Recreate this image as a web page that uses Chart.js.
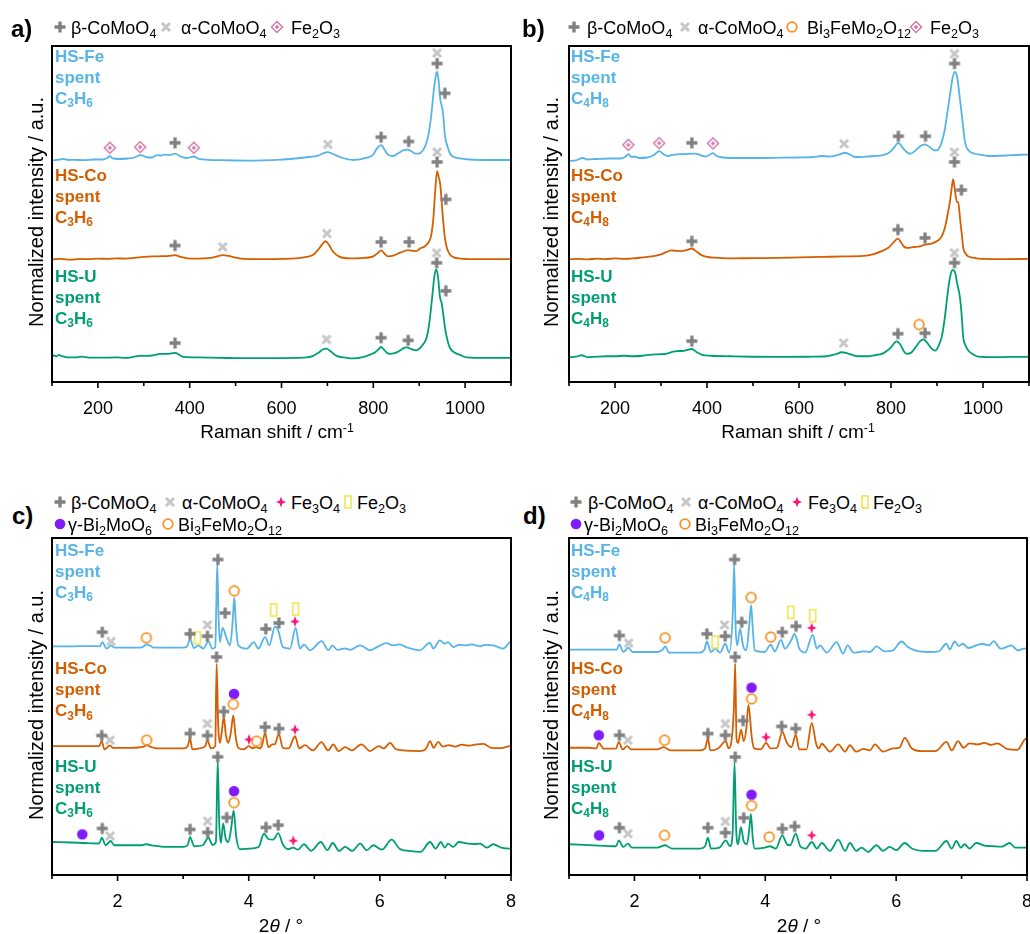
<!DOCTYPE html>
<html>
<head>
<meta charset="utf-8">
<script src="https://cdn.jsdelivr.net/npm/chart.js@4.4.1/dist/chart.umd.min.js"></script>
<style>
  body { margin:0; background:#fff; width:1030px; height:934px; position:relative; overflow:hidden;
         font-family:"Liberation Sans", Arial, sans-serif; color:#000; }
  canvas.chart { position:absolute; }
  .lbl { position:absolute; font-weight:bold; font-size:17px; line-height:21px; white-space:nowrap; }
  .leg { position:absolute; font-size:18px; white-space:nowrap; transform:translateY(-50%); }
  .ico { position:absolute; transform:translate(-50%,-50%); }
  .ytitle { position:absolute; font-size:20px; white-space:nowrap; transform:translate(-50%,-50%) rotate(-90deg); }
  .xtitle { position:absolute; font-size:19px; white-space:nowrap; transform:translate(-50%,-50%); }
  .plet { position:absolute; font-size:24px; font-weight:bold; transform:translateY(-50%); }
  sub { font-size:70%; vertical-align:baseline; position:relative; top:0.32em; line-height:0; }
  sup { font-size:65%; vertical-align:baseline; position:relative; top:-0.5em; line-height:0; }
</style>
</head>
<body>
<script>
// ---------- données Raman (a.u., hauteur au-dessus de la ligne de base) ----------
const ramanTicks = [200, 400, 600, 800, 1000];
const xrdTicks = [2, 4, 6, 8];

// a) C3H6
const ramanFe_C3H6 = [[100,0.5],[110,1],[124,2],[135,1],[150,1.2],[170,0.8],[190,1.5],[210,1.5],[220,3],[226,5],[232,2.5],[245,2],[265,2.5],[280,3.5],[293,6],[305,4],[318,3.5],[329,6],[338,5.5],[347,6.5],[357,6],[368,7.5],[380,4.5],[395,3],[409,4.5],[420,2],[440,1.2],[470,0.8],[500,0.5],[540,0.3],[580,0.8],[603,1.5],[630,2.5],[660,4],[680,5.5],[692,8],[701,9],[712,7],[730,3.5],[756,1],[786,3.3],[800,6.5],[807,12],[817,16],[825,11],[833,6],[843,5],[855,8],[866,11],[875,11.5],[884,9.5],[892,7.5],[899,7.5],[907,10],[914,16],[920,26],[926,45],[932,72],[937,88],[939,90],[942,82],[946,62],[949,56],[952,48],[956,26],[962,14],[967,7.5],[975,4],[989,2.7],[1010,1.5],[1050,1],[1100,1]];
const ramanCo_C3H6 = [[100,0],[120,0.5],[140,-0.3],[160,0.5],[180,0.2],[200,0.8],[220,0.5],[240,1],[260,0.8],[280,1.5],[300,2.5],[320,3],[340,3.2],[355,3.5],[368,4.3],[380,2.5],[395,1],[420,0.8],[445,1.5],[460,3],[472,4.3],[485,3.5],[500,1.8],[520,0.5],[560,0.3],[600,0.5],[630,1],[655,2.5],[670,5],[682,11],[690,16],[696,18.3],[703,15],[712,8],[727,2.5],[750,1],[780,1.5],[800,3],[810,6.5],[817,9],[824,6],[832,3],[845,4],[860,7],[876,9.3],[887,8.5],[894,8.3],[902,11],[912,13],[920,17],[926,24],[931,42],[935,70],[939,89],[942,84],[946,75],[949,58],[952,40],[956,22],[960,12],[967,5],[974,2.3],[990,0.8],[1020,0.3],[1060,0.3],[1100,0.3]];
const ramanU_C3H6 = [[100,1],[105,2.5],[110,1.5],[115,3],[120,2],[125,1.5],[135,0.5],[150,0.5],[165,1.3],[180,0.3],[210,0.2],[240,0.5],[260,0],[277,1],[290,2],[305,2],[320,2.5],[335,4],[350,4],[360,4.5],[368,5],[378,3],[386,1],[420,0.5],[470,0],[520,-0.3],[580,-0.3],[630,0],[655,0.5],[669,2],[680,5],[690,8.5],[698,9.3],[706,7],[720,2],[740,0.3],[756,-0.5],[775,0.5],[793,3.3],[805,6],[812,9],[817,11],[822,9],[829,5.5],[836,4],[848,5],[860,8],[868,10.5],[873,10.7],[880,9.5],[888,8],[894,7.7],[902,10],[909,14],[916,20],[922,35],[928,60],[933,82],[937,89.3],[941,82],[945,62],[949,55],[953,42],[957,28],[962,17],[967,10],[975,6],[989,3],[1004,0.5],[1040,0],[1100,0]];

// b) C4H8
const ramanFe_C4H8 = [[100,0],[115,0.5],[130,3],[140,1.5],[160,2],[190,2.5],[210,2.5],[222,4],[229,7],[236,4],[243,4.5],[252,3],[270,3.5],[285,6],[296,10],[305,7],[315,5],[330,6.5],[350,7],[374,7.5],[388,5.5],[396,4.5],[405,6],[413,8],[421,5],[435,3.5],[470,3],[520,3],[560,3.3],[600,3.5],[630,4],[650,5],[665,4.5],[680,5.5],[690,7],[700,8.3],[710,6.5],[722,4],[750,4.5],[765,5],[780,5.7],[795,8],[806,13],[816,18.3],[826,13],[834,9],[841,7.3],[852,10],[864,15],[874,16.7],[884,14],[893,11],[899,10.7],[908,16],[917,32],[923,50],[928,66],[934,84],[939,90],[944,84],[950,62],[956,38],[961,19],[970,10],[983,7.3],[1000,6],[1011,5],[1050,5.5],[1080,6.3],[1100,6.5]];
const ramanCo_C4H8 = [[100,0],[120,0.5],[140,0],[160,0.8],[180,0.3],[200,1],[220,0.5],[240,1],[260,2],[280,3],[300,5],[312,7.5],[323,9],[335,8.5],[345,8.3],[356,9.5],[367,11],[377,8],[388,4.3],[400,2.5],[417,1.7],[450,1],[500,1.3],[550,1.5],[600,2],[650,2.5],[700,3],[740,3.5],[760,5],[780,8.3],[795,12],[805,17],[815,21],[822,17],[828,13],[834,11.7],[850,12.5],[865,13.5],[874,15],[888,16],[902,19],[910,23],[917,31.7],[923,45],[928,58],[932,72],[935,81],[939,70],[943,58],[946,58],[950,41.7],[954,25],[957,11.7],[962,6],[967,3.3],[980,1.5],[1000,0.5],[1050,0.3],[1100,0.5]];
const ramanU_C4H8 = [[100,0],[115,0.5],[128,2],[140,0],[160,0.5],[180,1],[200,1],[220,1.5],[240,1],[260,1.5],[280,2.7],[300,3],[315,4],[330,6],[350,6.5],[367,8.3],[378,5],[388,2.7],[410,1.5],[450,1],[500,0.5],[560,0.3],[620,0.5],[660,1],[680,3],[693,5],[705,4],[728,1],[750,1],[770,2.5],[780,3.3],[790,6],[800,10],[812,16],[820,13],[828,6],[834,3.3],[845,5],[855,11],[863,16],[870,18],[878,15],[888,9],[896,6.7],[904,12],[911,22],[917,40],[922,60],[928,80],[934,88],[939,86],[944,74],[950,60],[954,40],[957,20],[962,12],[968,6.7],[978,3],[990,0.5],[1020,0],[1060,0.3],[1100,0.5]];

// ---------- données DRX (2θ / °) ----------
// c) C3H6
const xrdFe_C3H6 = [[1.00,0],[1.30,0],[1.60,0.3],[1.73,0],[1.767,4.3],[1.834,-2.3],[1.90,1],[1.95,-1.3],[2.10,-1.3],[2.34,-1.3],[2.40,0],[2.44,2],[2.50,0.5],[2.55,-1.3],[2.80,-1.3],[3.00,-1.3],[3.06,0],[3.105,7],[3.166,-1.7],[3.23,1],[3.31,-2.3],[3.384,5],[3.445,-2.3],[3.49,-1],[3.505,40],[3.52,82.7],[3.54,30],[3.56,4.3],[3.603,18.7],[3.664,7.7],[3.715,1],[3.755,25],[3.78,49.3],[3.805,22],[3.84,1],[3.97,-2.3],[4.08,4.3],[4.146,-2.3],[4.25,9.3],[4.314,1],[4.40,20],[4.45,16],[4.52,-0.7],[4.63,-2.3],[4.716,18.7],[4.78,-2.3],[4.843,1.7],[4.935,-4],[5.113,5.3],[5.214,-4],[5.275,1],[5.35,-3.5],[5.47,-2],[5.55,-3.5],[5.70,1],[5.85,-4],[5.95,-1],[6.10,3.3],[6.20,1],[6.30,2],[6.41,-1],[6.61,-4],[6.765,3.7],[6.815,-2.3],[6.917,6],[6.99,2.7],[7.04,4.3],[7.12,-0.7],[7.20,1.5],[7.32,1],[7.40,2],[7.53,0],[7.60,1.5],[7.73,1],[7.88,-2.3],[7.985,4.3],[8.00,4.5]];
const xrdCo_C3H6 = [[1.00,0],[1.50,0],[1.72,0],[1.758,5],[1.80,-3.3],[1.885,0.7],[1.93,-1.7],[2.20,-1.7],[2.40,-0.5],[2.44,1],[2.50,-0.5],[2.60,-2.3],[3.00,-2.3],[3.07,0],[3.105,7.7],[3.14,-3.3],[3.25,-2.3],[3.335,0],[3.37,5.7],[3.425,-2.3],[3.49,0],[3.51,83.3],[3.535,20],[3.56,3.3],[3.59,15],[3.62,30],[3.65,12],[3.69,3.3],[3.73,15],[3.765,31],[3.80,10],[3.84,-1.7],[3.92,-3.3],[4.004,0],[4.05,-2],[4.12,-1],[4.16,-2.3],[4.20,0],[4.25,13.3],[4.30,-1],[4.36,1.7],[4.40,2],[4.46,12.3],[4.52,-1.7],[4.61,-2.3],[4.706,10],[4.77,-2.3],[4.858,1],[4.98,-4.3],[5.11,4],[5.21,-4.3],[5.29,1.7],[5.37,-5],[5.47,-1],[5.57,-4.3],[5.72,1.7],[5.85,-5],[5.98,0],[6.06,-2.3],[6.155,3.3],[6.25,-3.3],[6.60,-5],[6.70,-3],[6.765,5],[6.82,-1.7],[6.89,4.3],[6.96,-0.5],[7.05,1],[7.15,-0.5],[7.25,1.5],[7.35,0.5],[7.45,1.5],[7.58,2.3],[7.70,-1.7],[7.85,-2],[7.985,0],[8.00,0]];
const xrdU_C3H6 = [[1.00,0],[1.30,-0.5],[1.48,-1],[1.72,-1.5],[1.758,4.3],[1.82,-3.3],[1.895,1],[1.95,-3.3],[2.34,-3.3],[2.44,-2.3],[2.55,-3.7],[2.75,-5],[3.00,-5],[3.07,-3],[3.105,5],[3.17,-4.3],[3.30,-3.3],[3.384,4.3],[3.45,-3],[3.50,0],[3.527,82],[3.55,20],[3.575,-1],[3.61,18.7],[3.65,3],[3.69,0],[3.735,15],[3.77,32],[3.81,5],[3.867,-7.3],[4.00,-6.7],[4.15,-5],[4.233,8.3],[4.30,3],[4.375,2.3],[4.45,9],[4.52,-2.3],[4.60,-7.3],[4.68,-5.7],[4.75,-7.7],[4.843,-2.3],[4.95,-9],[5.10,0],[5.20,-8.3],[5.28,-1],[5.38,-9],[5.47,-5],[5.58,-9],[5.70,-1.7],[5.80,-8.3],[5.90,-3.3],[6.03,-7.7],[6.18,2.3],[6.30,-6.7],[6.45,-9],[6.62,-10],[6.765,0],[6.85,-6.7],[6.93,0],[6.99,-5.7],[7.04,-1.7],[7.12,-5],[7.20,0],[7.35,-1.7],[7.45,-2],[7.53,-1.7],[7.63,-5.7],[7.73,-2.3],[7.85,-5.7],[7.985,-6.7],[8.00,-6.7]];

// d) C4H8
const xrdFe_C4H8 = [[1.00,0],[1.50,0],[1.73,0],[1.77,5.3],[1.83,-2.3],[1.912,2],[1.97,-2.3],[2.35,-2.3],[2.43,0],[2.47,3.3],[2.53,-3],[3.00,-3],[3.07,0],[3.108,8.3],[3.17,-2.3],[3.234,1],[3.31,-3],[3.387,6],[3.45,-3],[3.505,40],[3.524,86],[3.545,25],[3.57,4.3],[3.616,21],[3.66,4.3],[3.71,-0.7],[3.755,25],[3.783,45.3],[3.81,20],[3.84,-0.7],[3.99,-2.3],[4.083,5],[4.146,-1.7],[4.24,10],[4.30,1],[4.40,10],[4.444,16],[4.48,11],[4.52,1],[4.61,-3],[4.724,15],[4.79,1],[4.835,4.3],[4.94,-3],[5.09,7.7],[5.19,-4],[5.258,4.3],[5.35,-3],[5.50,-1.7],[5.60,-2.3],[5.70,3.3],[5.82,-1.7],[5.95,-0.7],[6.08,8.3],[6.18,2.7],[6.30,-1],[6.50,-2.3],[6.65,-1.7],[6.77,6],[6.82,0.3],[6.894,8.3],[6.96,3.7],[7.02,6],[7.10,1.7],[7.22,4.3],[7.32,6],[7.42,4.3],[7.49,8.7],[7.60,1],[7.76,4.3],[7.86,-0.7],[7.95,1],[8.00,1]];
const xrdCo_C4H8 = [[1.00,0.7],[1.30,0.7],[1.42,0],[1.455,5.7],[1.53,-0.3],[1.72,0],[1.76,6.7],[1.82,-1],[1.888,2.3],[1.95,-1],[2.35,-1],[2.446,1.3],[2.55,-2],[3.00,-2],[3.08,0],[3.123,10],[3.16,-2],[3.28,0],[3.397,7.3],[3.44,0],[3.52,40],[3.54,85.7],[3.56,10],[3.585,5.7],[3.63,19],[3.67,7.3],[3.71,20],[3.742,44],[3.794,10.7],[3.83,0],[3.93,-1],[4.012,5.7],[4.08,0],[4.18,0.7],[4.26,16.7],[4.33,5.7],[4.40,1.3],[4.465,14],[4.52,-1],[4.63,-1],[4.71,25.7],[4.78,4],[4.82,0],[4.862,4.7],[4.99,-3.3],[5.115,4],[5.22,-3.3],[5.293,3.3],[5.39,-3.3],[5.50,-0.5],[5.60,-2],[5.675,4],[5.80,-3.3],[5.95,0],[6.05,0.7],[6.132,10.7],[6.24,0],[6.40,-2.7],[6.60,-2.7],[6.77,6.7],[6.85,-2],[6.945,7.3],[7.03,0.7],[7.12,5],[7.25,4],[7.35,5.7],[7.45,3.5],[7.55,5],[7.70,-0.7],[7.85,-1.5],[7.99,10],[8.00,10]];
const xrdU_C4H8 = [[1.00,0],[1.455,-1.3],[1.72,-2],[1.76,4],[1.83,-2.7],[1.90,0.7],[1.96,-3.3],[2.35,-3.3],[2.47,-1],[2.57,-4.3],[3.00,-4.3],[3.08,-2],[3.123,6.7],[3.17,-4.3],[3.30,-3.3],[3.397,4],[3.46,-2],[3.50,10],[3.53,82.3],[3.555,15],[3.585,0],[3.627,17.3],[3.67,3],[3.72,0],[3.755,15],[3.78,30.7],[3.81,5],[3.84,-4.3],[3.997,-3.3],[4.07,-2],[4.16,-4.3],[4.26,9],[4.33,0],[4.38,-1],[4.465,10.7],[4.54,-2.7],[4.62,-4.3],[4.71,2.3],[4.79,-4.3],[4.862,1.3],[4.99,-6.7],[5.115,4.7],[5.22,-6.7],[5.293,1.3],[5.39,-6.7],[5.47,-3.3],[5.57,-7.7],[5.70,-1],[5.80,-6.7],[5.90,-2.7],[6.00,-6],[6.132,1.3],[6.24,-4.3],[6.40,-6.7],[6.60,-6.7],[6.77,3.3],[6.85,-4.3],[6.92,3.3],[6.99,-3.3],[7.046,0],[7.12,-4.3],[7.225,1.3],[7.35,-1.3],[7.50,-2],[7.62,-2.3],[7.733,1.3],[7.82,-3.3],[7.95,-3.3],[8.00,-3.3]];

// ---------- attribution des pics : [échantillon, phase, position, hauteur] ----------
const marksA = [['Fe','fe2o3R',226,13.3],['Fe','fe2o3R',292,14],['Fe','beta',368,18.3],['Fe','fe2o3R',409,13.3],['Fe','alpha',701,16.7],['Fe','beta',817,24],['Fe','beta',877,19.7],['Fe','beta',939,98.3],['Fe','alpha',939,109],['Fe','beta',956,68.3],
  ['Co','beta',368,14],['Co','alpha',472,12.6],['Co','alpha',699,26],['Co','beta',817,17.6],['Co','beta',878,17.6],['Co','beta',939,98.3],['Co','alpha',939,108.3],['Co','beta',958,60.6],
  ['U','beta',368,15],['U','alpha',698,18.7],['U','beta',817,20.4],['U','beta',876,17.7],['U','beta',938,96],['U','alpha',938,106],['U','beta',958,67.7]];
const marksB = [['Fe','fe2o3R',229,16.3],['Fe','fe2o3R',296,18],['Fe','beta',367,18.3],['Fe','fe2o3R',413,17.7],['Fe','alpha',698,17.3],['Fe','beta',816,25],['Fe','beta',875,25],['Fe','beta',938,98.3],['Fe','alpha',938,108.3],
  ['Co','beta',367,18.3],['Co','beta',815,30],['Co','beta',874,21.7],['Co','beta',938,98.3],['Co','alpha',938,108.3],['Co','beta',953,70],
  ['U','beta',367,16.3],['U','alpha',697,14.3],['U','beta',815,23.7],['U','bfmo',861,33],['U','beta',874,24.3],['U','beta',938,95.3],['U','alpha',938,105.3]];
const marksC = [['Fe','beta',1.767,14.3],['Fe','alpha',1.90,5],['Fe','bfmo',2.44,8.6],['Fe','beta',3.105,12.6],['Fe','fe2o3X',3.22,8.6],['Fe','alpha',3.37,21.6],['Fe','beta',3.37,10.3],['Fe','beta',3.53,87.6],['Fe','beta',3.64,33.6],['Fe','bfmo',3.78,56],['Fe','beta',4.26,17.6],['Fe','fe2o3X',4.38,36.6],['Fe','beta',4.46,23.6],['Fe','fe2o3X',4.716,37.6],['Fe','fe3o4',4.705,25],
  ['Co','beta',1.758,10.7],['Co','alpha',1.885,6],['Co','bfmo',2.444,6],['Co','beta',3.105,12.7],['Co','beta',3.37,10.7],['Co','alpha',3.37,22.7],['Co','beta',3.51,90],['Co','beta',3.62,35],['Co','bfmo',3.765,42.3],['Co','gamma',3.776,52.7],['Co','fe3o4',4.004,6.7],['Co','bfmo',4.12,5],['Co','beta',4.25,19.3],['Co','beta',4.46,17.7],['Co','fe3o4',4.706,16.7],
  ['U','gamma',1.462,7.7],['U','beta',1.767,13.7],['U','alpha',1.885,6],['U','beta',3.105,12.7],['U','beta',3.374,9.7],['U','alpha',3.374,21],['U','beta',3.527,86],['U','beta',3.664,24.7],['U','bfmo',3.776,39.7],['U','gamma',3.776,51.3],['U','beta',4.264,14.7],['U','beta',4.45,17],['U','fe3o4',4.68,1.3]];
const marksD = [['Fe','beta',1.77,14.3],['Fe','alpha',1.912,6.7],['Fe','bfmo',2.47,12],['Fe','beta',3.108,16],['Fe','fe2o3X',3.234,7.7],['Fe','alpha',3.377,25],['Fe','beta',3.387,13.7],['Fe','beta',3.53,91],['Fe','beta',3.64,27.7],['Fe','bfmo',3.783,52.7],['Fe','bfmo',4.083,12.7],['Fe','beta',4.26,17.7],['Fe','fe2o3X',4.39,37.7],['Fe','beta',4.47,23.7],['Fe','fe2o3X',4.724,34.3],['Fe','fe3o4',4.71,22],
  ['Co','gamma',1.455,13.3],['Co','beta',1.77,13.3],['Co','alpha',1.90,8.3],['Co','bfmo',2.46,8.3],['Co','beta',3.123,15],['Co','beta',3.39,13.3],['Co','alpha',3.39,25],['Co','beta',3.54,92.3],['Co','beta',3.66,28],['Co','bfmo',3.79,50],['Co','gamma',3.79,61.3],['Co','fe3o4',4.012,11.3],['Co','beta',4.25,22.3],['Co','beta',4.465,20],['Co','fe3o4',4.71,34],
  ['U','gamma',1.46,9],['U','beta',1.77,16.7],['U','alpha',1.90,10.7],['U','bfmo',2.46,9],['U','beta',3.123,16.7],['U','beta',3.39,11.7],['U','alpha',3.39,23],['U','beta',3.54,88],['U','beta',3.67,26.7],['U','bfmo',3.79,39],['U','gamma',3.79,50],['U','bfmo',4.06,7.3],['U','beta',4.26,15.7],['U','beta',4.45,18],['U','fe3o4',4.71,9]];

// ---------- styles ----------
const COL = { Fe: '#56b4e9', Co: '#d55e00', U: '#009e73' };
const FONT = '"Liberation Sans", Arial, sans-serif';
Chart.defaults.font.family = FONT;

// symboles dessinés sur un petit canvas (utilisés comme pointStyle et dans la légende)
function icone(kind) {
  const c = document.createElement('canvas');
  c.width = 16; c.height = 16;
  const g = c.getContext('2d');
  g.translate(8, 8);
  g.beginPath();
  if (kind === 'beta') {
    g.strokeStyle = '#808080'; g.lineWidth = 3.3;
    g.moveTo(-5.5, 0); g.lineTo(5.5, 0); g.moveTo(0, -5.5); g.lineTo(0, 5.5); g.stroke();
  } else if (kind === 'alpha') {
    g.strokeStyle = '#c6c6c6'; g.lineWidth = 3;
    g.moveTo(-4, -4); g.lineTo(4, 4); g.moveTo(4, -4); g.lineTo(-4, 4); g.stroke();
  } else if (kind === 'fe2o3R') {
    g.strokeStyle = '#d477a9'; g.fillStyle = '#d477a9'; g.lineWidth = 1.5;
    g.moveTo(0, -5.5); g.lineTo(5.5, 0); g.lineTo(0, 5.5); g.lineTo(-5.5, 0); g.closePath(); g.stroke();
    g.beginPath(); g.moveTo(0, -2.2); g.lineTo(2.2, 0); g.lineTo(0, 2.2); g.lineTo(-2.2, 0); g.closePath(); g.fill();
  } else if (kind === 'bfmo') {
    g.strokeStyle = '#f7901e'; g.lineWidth = 1.8;
    g.arc(0, 0, 4.8, 0, Math.PI * 2); g.stroke();
  } else if (kind === 'gamma') {
    g.fillStyle = '#7f1cfb';
    g.arc(0, 0, 5.3, 0, Math.PI * 2); g.fill();
  } else if (kind === 'fe3o4') {
    g.fillStyle = '#f5167c';
    g.moveTo(0, -5.5); g.lineTo(1.4, -1.4); g.lineTo(5, 0); g.lineTo(1.4, 1.4);
    g.lineTo(0, 5.5); g.lineTo(-1.4, 1.4); g.lineTo(-5, 0); g.lineTo(-1.4, -1.4); g.closePath(); g.fill();
  } else if (kind === 'fe2o3X') {
    g.strokeStyle = '#f0df3c'; g.lineWidth = 1.4;
    g.strokeRect(-3, -6, 6, 12);
  }
  return c;
}
const ICONS = {};
['beta','alpha','fe2o3R','bfmo','gamma','fe3o4','fe2o3X'].forEach(k => ICONS[k] = icone(k));

// cadre + graduations
const cadre = {
  id: 'cadre',
  afterDraw(chart, args, opts) {
    const ctx = chart.ctx, a = chart.chartArea, sx = chart.scales.x;
    ctx.save();
    ctx.strokeStyle = '#000';
    ctx.lineWidth = 1.6;
    sx.ticks.forEach(t => {
      const px = sx.getPixelForValue(t.value);
      const len = opts.labels.includes(t.value) ? 6 : 4;
      ctx.beginPath(); ctx.moveTo(px, a.bottom); ctx.lineTo(px, a.bottom + len); ctx.stroke();
    });
    ctx.lineWidth = 2;
    ctx.strokeRect(a.left, a.top, a.right - a.left, a.bottom - a.top);
    ctx.restore();
  }
};

function panneau(p) {
  const pad = 20, padTop = 4, axeH = 44;
  const cv = document.createElement('canvas');
  cv.className = 'chart';
  cv.width = p.w + 2 * pad;
  cv.height = p.h + padTop + axeH;
  cv.style.left = (p.left - pad) + 'px';
  cv.style.top = (p.top - padTop) + 'px';
  document.body.appendChild(cv);

  const datasets = [];
  // marqueurs regroupés par phase
  Object.keys(ICONS).forEach(k => {
    const pts = p.marks.filter(m => m[1] === k).map(m => ({ x: m[2], y: m[3] + p.offsets[m[0]] }));
    if (!pts.length) return;
    datasets.push({ type: 'scatter', data: pts, pointStyle: ICONS[k], pointRadius: 6, showLine: false, order: 0 });
  });
  // spectres décalés
  ['Fe', 'Co', 'U'].forEach(s => {
    datasets.push({
      type: 'line',
      data: p.traces[s].map(v => ({ x: v[0], y: v[1] + p.offsets[s] })),
      borderColor: COL[s], borderWidth: 1.8, pointRadius: 0,
      cubicInterpolationMode: 'monotone', fill: false, order: 1
    });
  });

  new Chart(cv, {
    type: 'line',
    data: { datasets },
    options: {
      responsive: false, animation: false, events: [], devicePixelRatio: 1,
      layout: { padding: { left: pad, right: pad, top: padTop, bottom: 0 } },
      plugins: { legend: { display: false }, tooltip: { enabled: false }, cadre: { labels: p.labels } },
      scales: {
        x: {
          type: 'linear', min: p.min, max: p.max,
          grid: { display: false }, border: { display: false },
          ticks: {
            stepSize: p.step, autoSkip: false, maxRotation: 0, padding: 8, color: '#000',
            font: { size: 18, family: FONT },
            callback: v => p.labels.includes(v) ? String(v) : ''
          },
          afterFit: s => { s.height = axeH; }
        },
        y: { display: false, min: 0, max: p.h }
      }
    },
    plugins: [cadre]
  });
}

panneau({ left: 52, top: 43, w: 459, h: 339, min: 100, max: 1100, step: 100, labels: ramanTicks,
  traces: { Fe: ramanFe_C3H6, Co: ramanCo_C3H6, U: ramanU_C3H6 },
  offsets: { Fe: 223, Co: 123.7, U: 24.3 }, marks: marksA });
panneau({ left: 569, top: 43, w: 460, h: 339, min: 100, max: 1100, step: 100, labels: ramanTicks,
  traces: { Fe: ramanFe_C4H8, Co: ramanCo_C4H8, U: ramanU_C4H8 },
  offsets: { Fe: 223, Co: 123.7, U: 25 }, marks: marksB });
panneau({ left: 52, top: 535, w: 459, h: 340, min: 1, max: 8, step: 1, labels: xrdTicks,
  traces: { Fe: xrdFe_C3H6, Co: xrdCo_C3H6, U: xrdU_C3H6 },
  offsets: { Fe: 230.7, Co: 130, U: 33.3 }, marks: marksC });
panneau({ left: 569, top: 535, w: 458, h: 340, min: 1, max: 8, step: 1, labels: xrdTicks,
  traces: { Fe: xrdFe_C4H8, Co: xrdCo_C4H8, U: xrdU_C4H8 },
  offsets: { Fe: 227.3, Co: 127.7, U: 31 }, marks: marksD });

// ---------- textes ----------
function html(tag, cls, style, content) {
  const e = document.createElement(tag);
  e.className = cls;
  Object.assign(e.style, style);
  e.innerHTML = content;
  document.body.appendChild(e);
  return e;
}

// lettres des panneaux
[['a)', 11, 29], ['b)', 522, 29], ['c)', 12, 516], ['d)', 523, 516]].forEach(l =>
  html('div', 'plet', { left: l[1] + 'px', top: l[2] + 'px' }, l[0]));

// légendes : [symbole, centre du symbole, début du texte, y, texte]
const B = 'β-CoMoO<sub>4</sub>', A = 'α-CoMoO<sub>4</sub>', F2 = 'Fe<sub>2</sub>O<sub>3</sub>',
      F3 = 'Fe<sub>3</sub>O<sub>4</sub>', G = 'γ-Bi<sub>2</sub>MoO<sub>6</sub>', BF = 'Bi<sub>3</sub>FeMo<sub>2</sub>O<sub>12</sub>';
const legendes = [
  ['beta', 60, 71, 27, B], ['alpha', 166, 181, 27, A], ['fe2o3R', 277, 291, 27, F2],
  ['beta', 574, 587, 27, B], ['alpha', 685, 698, 27, A], ['bfmo', 792, 807, 27, BF], ['fe2o3R', 916, 930, 27, F2],
  ['beta', 60, 71, 502, B], ['alpha', 170, 182, 502, A], ['fe3o4', 281, 291, 502, F3], ['fe2o3X', 348, 357, 502, F2],
  ['gamma', 60, 68, 524, G], ['bfmo', 168, 178, 524, BF],
  ['beta', 576, 588, 502, B], ['alpha', 686, 698, 502, A], ['fe3o4', 797, 808, 502, F3], ['fe2o3X', 865, 873, 502, F2],
  ['gamma', 576, 584, 524, G], ['bfmo', 685, 695, 524, BF]
];
legendes.forEach(l => {
  const img = document.createElement('img');
  img.src = ICONS[l[0]].toDataURL();
  img.className = 'ico';
  img.style.left = l[1] + 'px'; img.style.top = l[3] + 'px';
  document.body.appendChild(img);
  html('div', 'leg', { left: l[2] + 'px', top: (l[3] + 1) + 'px' }, l[4]);
});

// étiquettes des échantillons
const gaz = { a: 'C<sub>3</sub>H<sub>6</sub>', b: 'C<sub>4</sub>H<sub>8</sub>', c: 'C<sub>3</sub>H<sub>6</sub>', d: 'C<sub>4</sub>H<sub>8</sub>' };
[['a', 55, [45.5, 164.5, 265.5]], ['b', 571, [45.5, 164.5, 265.5]],
 ['c', 55, [539.5, 658, 755.5]], ['d', 571, [539.5, 658, 755.5]]].forEach(e => {
  ['Fe', 'Co', 'U'].forEach((s, i) => {
    html('div', 'lbl', { left: e[1] + 'px', top: e[2][i] + 'px', color: COL[s] },
      'HS-' + s + '<br>spent<br>' + gaz[e[0]]);
  });
});

// titres des axes
[[36, 212], [551, 212], [36, 705], [551, 705]].forEach(t =>
  html('div', 'ytitle', { left: t[0] + 'px', top: t[1] + 'px' }, 'Normalized intensity / a.u.'));
html('div', 'xtitle', { left: '277px', top: '432px' }, 'Raman shift / cm<sup>-1</sup>');
html('div', 'xtitle', { left: '798px', top: '432px' }, 'Raman shift / cm<sup>-1</sup>');
html('div', 'xtitle', { left: '281px', top: '926px' }, '2<i>θ</i> / °');
html('div', 'xtitle', { left: '799px', top: '926px' }, '2<i>θ</i> / °');
</script>
</body>
</html>
